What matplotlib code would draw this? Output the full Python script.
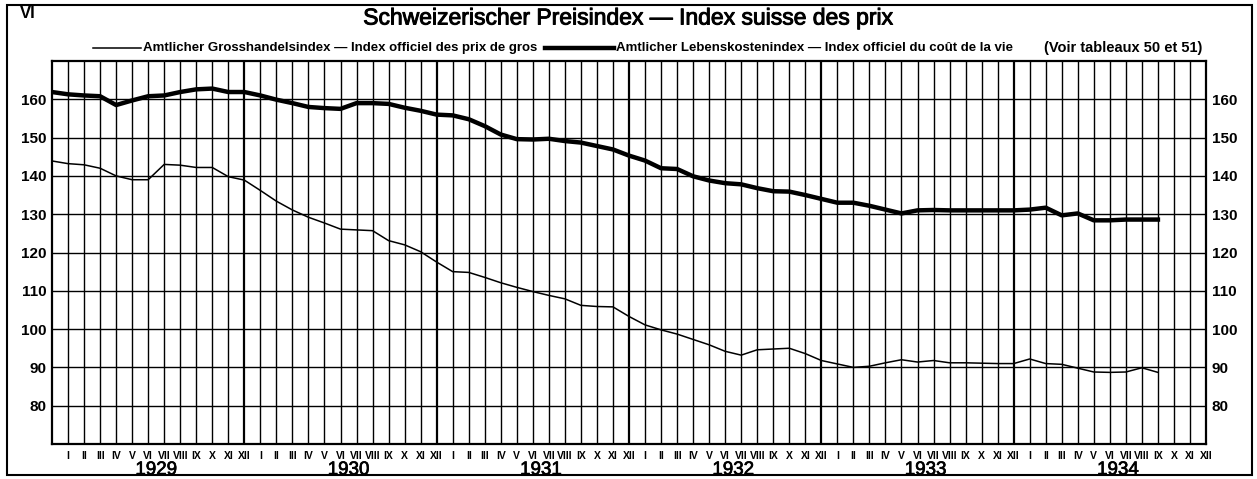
import matplotlib
matplotlib.use("Agg")
import matplotlib.pyplot as plt
from matplotlib.lines import Line2D
from matplotlib.patches import Rectangle
import matplotlib.transforms as mtransforms
import matplotlib.patheffects as pe

# ---- data (monthly, XII 1928 .. IX 1934) ----
grosshandel = [143.9, 143.2, 142.9, 142.0, 140.0, 139.0, 139.0, 143.0, 142.8, 142.2,
               142.2, 139.8, 138.9, 136.2, 133.4, 131.1, 129.2, 127.7, 126.1, 125.9,
               125.7, 123.1, 122.0, 120.2, 117.5, 115.0, 114.8, 113.5, 112.1, 110.9,
               109.8, 108.8, 107.9, 106.2, 105.9, 105.8, 103.3, 101.1, 99.8, 98.7,
               97.3, 95.9, 94.2, 93.2, 94.6, 94.8, 95.0, 93.6, 91.8, 90.9,
               90.0, 90.3, 91.2, 92.0, 91.4, 91.8, 91.2, 91.2, 91.1, 91.0,
               91.0, 92.2, 91.0, 90.8, 89.8, 88.8, 88.7, 88.8, 89.9, 88.7]
lebenskosten = [161.9, 161.3, 161.0, 160.8, 158.5, 159.7, 160.8, 161.0, 161.9, 162.6,
                162.8, 161.9, 161.9, 161.0, 159.9, 159.0, 158.0, 157.7, 157.5, 159.0,
                159.0, 158.8, 157.8, 157.0, 156.0, 155.8, 154.8, 153.0, 150.8, 149.6,
                149.5, 149.7, 149.1, 148.7, 147.8, 146.9, 145.3, 144.0, 142.0, 141.8,
                139.9, 138.8, 138.1, 137.8, 136.8, 136.0, 135.9, 135.0, 134.0, 133.0,
                133.0, 132.2, 131.2, 130.2, 131.0, 131.1, 131.0, 131.0, 131.0, 131.0,
                131.0, 131.2, 131.7, 129.7, 130.2, 128.4, 128.4, 128.6, 128.6, 128.6]
months = ["I", "II", "III", "IV", "V", "VI", "VII", "VIII", "IX", "X", "XI", "XII"]
years = ["1929", "1930", "1931", "1932", "1933", "1934"]
y_ticks = [80, 90, 100, 110, 120, 130, 140, 150, 160]

title = "Schweizerischer Preisindex \u2014 Index suisse des prix"
leg1 = "Amtlicher Grosshandelsindex \u2014 Index officiel des prix de gros"
leg2 = "Amtlicher Lebenskostenindex \u2014 Index officiel du co\u00fbt de la vie"
note = "(Voir tableaux 50 et 51)"

W, H = 1257, 479
fig = plt.figure(figsize=(W / 100, H / 100), dpi=100)
fig.patch.set_facecolor("white")

narrow = ["Liberation Sans Narrow", "Liberation Sans", "DejaVu Sans"]
sans = ["Liberation Sans", "DejaVu Sans"]

def fx(px):
    return px / W

def fy(py):
    return 1 - py / H

ax = fig.add_axes([fx(52), fy(444), fx(1206) - fx(52), fy(61) - fy(444)])
n_months = len(years) * 12
ax.set_xlim(0, n_months)
ax.set_ylim(70, 170)

# grid
for m in range(1, n_months):
    lw = 1.6 if m % 12 == 0 else 1.0
    ax.axvline(m, color="black", lw=lw, zorder=1)
for v in y_ticks:
    ax.axhline(v, color="black", lw=1.0, zorder=1)
for s in ax.spines.values():
    s.set_linewidth(1.6)

xs = list(range(len(grosshandel)))
ax.plot(xs, grosshandel, color="black", lw=1.1, zorder=3, solid_joinstyle="round")
ax.plot(xs, lebenskosten, color="black", lw=3.2, zorder=3, solid_joinstyle="round")

# ticks
ax.set_yticks(y_ticks)
ax.set_yticklabels([str(v) for v in y_ticks])
ax.tick_params(axis="y", length=0, labelleft=True, labelright=True, pad=4,
               labelsize=11)
for lab in ax.get_yticklabels():
    lab.set_fontfamily(sans)
    lab.set_fontweight("bold")
ax.set_xticks([m + 1 for m in range(n_months)])
ax.set_xticklabels(months * len(years))
ax.tick_params(axis="x", length=0, pad=5, labelsize=7.5)
for lab in ax.get_xticklabels():
    lab.set_fontfamily(narrow)
    lab.set_fontweight("bold")

trans = mtransforms.blended_transform_factory(ax.transData, fig.transFigure)
for k, yr in enumerate(years):
    ax.text(12 * k + 6.5, fy(470), yr, transform=trans, ha="center", va="center",
            fontsize=13.5, fontfamily=sans,
            path_effects=[pe.withStroke(linewidth=0.5, foreground="black")])

# header texts
fig.text(fx(628), fy(18), title, ha="center", va="center", fontsize=16.5,
         fontfamily=sans,
         path_effects=[pe.withStroke(linewidth=0.7, foreground="black")])
fig.text(fx(20), fy(14), "VI", ha="left", va="center", fontsize=12,
         fontweight="bold", fontfamily=sans)

ly = fy(48)
fig.add_artist(Line2D([fx(93), fx(141)], [ly, ly], color="black", lw=1.1,
                      transform=fig.transFigure))
fig.text(fx(143), ly, leg1, ha="left", va="center", fontsize=9.5,
         fontweight="bold", fontfamily=narrow)
fig.add_artist(Line2D([fx(545), fx(614)], [ly, ly], color="black", lw=3.2,
                      transform=fig.transFigure))
fig.text(fx(616), ly, leg2, ha="left", va="center", fontsize=9.5,
         fontweight="bold", fontfamily=narrow)
fig.text(fx(1202), ly, note, ha="right", va="center", fontsize=10.5,
         fontweight="bold", fontfamily=narrow)

# outer frame
fig.add_artist(Rectangle((fx(7), fy(475)), fx(1252) - fx(7), fy(5) - fy(475),
                         fill=False, edgecolor="black", lw=1.5,
                         transform=fig.transFigure))

fig.savefig("out.png", dpi=100, facecolor="white")
